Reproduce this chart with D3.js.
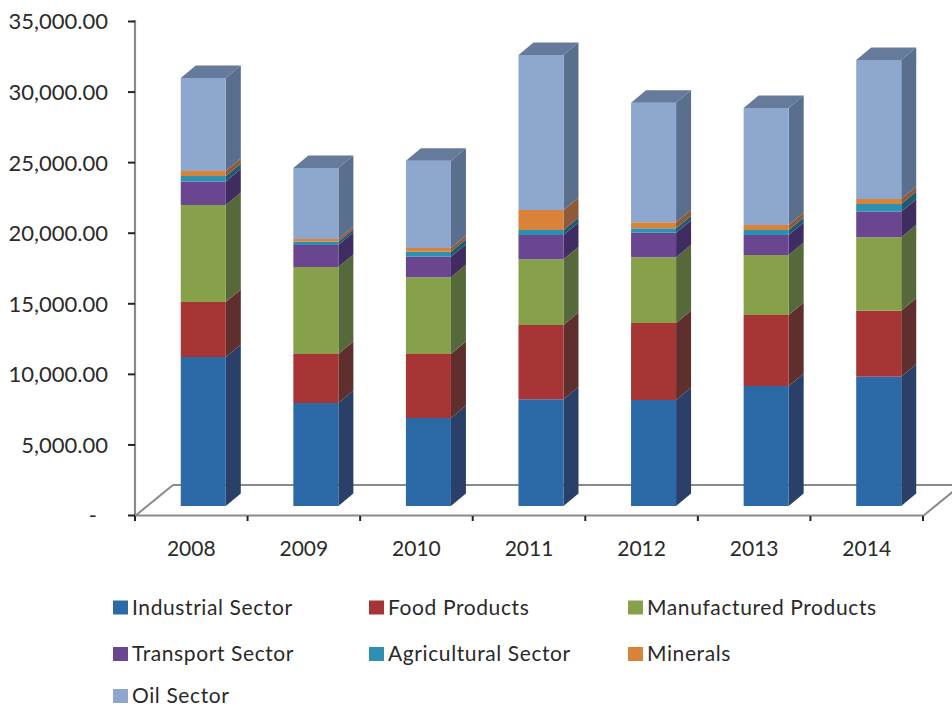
<!DOCTYPE html>
<html><head><meta charset="utf-8">
<script src="https://cdn.jsdelivr.net/npm/d3@7/dist/d3.min.js"></script>
<style>html,body{margin:0;padding:0;background:#fff}svg{display:block}text{font-family:Lato,sans-serif;fill:#2a2a2a}</style>
</head><body><svg id="c" width="952" height="708"></svg>
<script>
const years = ["2008","2009","2010","2011","2012","2013","2014"];
const seriesNames = ["Industrial Sector","Food Products","Manufactured Products","Transport Sector","Agricultural Sector","Minerals","Oil Sector"];
const industrial = [10557,7298,6235,7560,7510,8502,9161];
const food = [3897,3472,4534,5264,5455,5030,4676];
const manufactured = [6873,6164,5434,4655,4655,4251,5200];
const transport = [1665,1559,1460,1722,1743,1417,1814];
const agricultural = [390,234,354,354,312,354,546];
const minerals = [354,191,262,1417,425,354,354];
const oil = [6589,5030,6185,10982,8474,8290,9848];
const yTicks = [0,5000,10000,15000,20000,25000,30000,35000];
const frontColors = ["#2b6aa6","#a83535","#87a14b","#6b4690","#2c90b0","#d9823a","#8ea7cf"];
const sideColors = ["#2a4069","#5e2f2d","#55693a","#3f2d62","#1f5a70","#8f5a38","#5a6e8e"];
const topColor = "#667a9c";

const W=952,H=708, axisX=135, axisR=923, y0=515, y35=21, dx=15, dy=12.5, floorDx=38, floorDy=30, shiftX=12, shiftY=-9;
const svg=d3.select("#c");
const x=d3.scaleBand().domain(years).range([axisX,axisR]).paddingInner(0.6).paddingOuter(0.3);
const y=d3.scaleLinear().domain([0,35000]).range([y0,y35]);
const table=years.map((yr,i)=>({year:yr,"Industrial Sector":industrial[i],"Food Products":food[i],"Manufactured Products":manufactured[i],"Transport Sector":transport[i],"Agricultural Sector":agricultural[i],"Minerals":minerals[i],"Oil Sector":oil[i]}));
const stacked=d3.stack().keys(seriesNames)(table);
const gray="#8a8a8a";

// floor
const floor=svg.append("g").attr("fill","none").attr("stroke",gray).attr("stroke-width",2);
floor.append("line").attr("x1",axisX+floorDx).attr("y1",y0-floorDy).attr("x2",W).attr("y2",y0-floorDy);
floor.append("line").attr("x1",axisX).attr("y1",y0+1).attr("x2",axisX+floorDx).attr("y2",y0-floorDy);
floor.append("line").attr("x1",axisR).attr("y1",y0+1).attr("x2",axisR+floorDx).attr("y2",y0-floorDy);

// bars
const bars=svg.append("g");
stacked.forEach((s,si)=>{
  s.forEach(d=>{
    const yr=d.data.year, l=x(yr)+shiftX, r=l+x.bandwidth(), t=y(d[1])+shiftY, b=y(d[0])+shiftY;
    bars.append("path").attr("fill",sideColors[si])
      .attr("d",`M${r},${b}L${r+dx},${b-dy}L${r+dx},${t-dy}L${r},${t}Z`);
    bars.append("rect").attr("x",l).attr("y",t).attr("width",x.bandwidth()).attr("height",b-t).attr("fill",frontColors[si]);
    if(si===stacked.length-1){
      bars.append("path").attr("fill",topColor)
        .attr("d",`M${l},${t}L${l+dx},${t-dy}L${r+dx},${t-dy}L${r},${t}Z`);
    }
  });
});

// y axis
const fmt=d3.format(",.2f");
const ga=svg.append("g").attr("transform",`translate(${axisX},0)`)
  .call(d3.axisLeft(y).tickValues(yTicks).tickSize(7).tickPadding(20).tickFormat(v=>v===0?"-":fmt(v)));
ga.select(".domain").attr("stroke",gray).attr("stroke-width",2.2).attr("d",`M0,${y35-1}V${y0+1}`);
ga.selectAll(".tick line").attr("stroke","#222").attr("stroke-width",2);
ga.selectAll(".tick text").attr("font-size",22).style("font-family","Lato,sans-serif").attr("fill","#2a2a2a").attr("dy","0.36em");
ga.selectAll(".tick text").filter(v=>v===0).attr("dx",-11);

// x axis
const gx=svg.append("g").attr("transform",`translate(0,${y0})`)
  .call(d3.axisBottom(x).tickSize(0).tickPadding(26));
gx.select(".domain").attr("stroke",gray).attr("stroke-width",2.2).attr("d",`M${axisX},0.5H${axisR}`);
gx.selectAll(".tick text").attr("font-size",21).style("font-family","Lato,sans-serif").attr("fill","#2a2a2a");
const edges=[0].concat(years.map((_,i)=>x.step()*(i+1)));
svg.append("g").selectAll("line").data(edges).join("line")
  .attr("x1",d=>axisX+d).attr("x2",d=>axisX+d).attr("y1",y0+1).attr("y2",y0+6)
  .attr("stroke","#222").attr("stroke-width",2);

// legend
const colX=[113,369,628], rowY=[607.5,654,696], textGap=19;
const lg=svg.append("g");
seriesNames.forEach((n,i)=>{
  const cx=colX[i%3], cy=rowY[Math.floor(i/3)];
  lg.append("rect").attr("x",cx).attr("y",cy-7).attr("width",15).attr("height",14).attr("fill",frontColors[i]);
  lg.append("text").attr("x",cx+textGap).attr("y",cy).attr("dy","0.35em").attr("font-size",21).attr("letter-spacing",0.6).text(n);
});
</script></body></html>
